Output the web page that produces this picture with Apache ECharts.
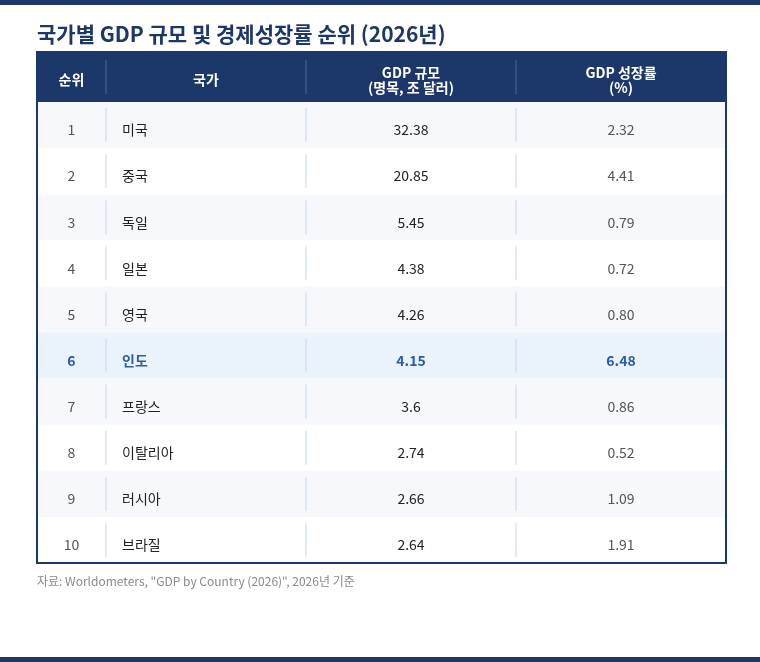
<!DOCTYPE html>
<html>
<head>
<meta charset="UTF-8">
<script src="https://cdn.jsdelivr.net/npm/echarts@6/dist/echarts.min.js"></script>
<style>html,body{margin:0;padding:0;background:#fff}#chart{width:760px;height:662px}</style>
</head>
<body>
<div id="chart"></div>
<script>
var ranks = [1, 2, 3, 4, 5, 6, 7, 8, 9, 10];
var countries = ['미국', '중국', '독일', '일본', '영국', '인도', '프랑스', '이탈리아', '러시아', '브라질'];
var gdp = ['32.38', '20.85', '5.45', '4.38', '4.26', '4.15', '3.6', '2.74', '2.66', '2.64'];
var growth = ['2.32', '4.41', '0.79', '0.72', '0.80', '6.48', '0.86', '0.52', '1.09', '1.91'];
var headers = ['순위', '국가', 'GDP 규모\n(명목, 조 달러)', 'GDP 성장률\n(%)'];
var highlightRank = 6;

var fam = '"Noto Sans CJK KR", "Noto Sans", sans-serif';
var navy = '#1c3769';
var tLeft = 37, tRight = 726, tTop = 52, headH = 50, rowH = 46.1;
var cols = [37, 106, 306, 516, 726];
var els = [];

function txt(x, y, s, size, weight, color, align, lh) {
  return { type: 'text', x: x, y: y, style: { text: s, fontSize: size, fontWeight: weight, fontFamily: fam,
    fill: color, align: align, verticalAlign: 'middle', lineHeight: lh || size + 2 } };
}

// 상하 띠
els.push({ type: 'rect', shape: { x: 0, y: 0, width: 760, height: 5 }, style: { fill: navy } });
els.push({ type: 'rect', shape: { x: 0, y: 657, width: 760, height: 5 }, style: { fill: navy } });
els.push(txt(37, 34, '국가별 GDP 규모 및 경제성장률 순위 (2026년)', 21, 'bold', navy, 'left'));

// 헤더
els.push({ type: 'rect', shape: { x: tLeft, y: tTop, width: tRight - tLeft, height: headH }, style: { fill: navy } });
headers.forEach(function (h, i) {
  els.push(txt((cols[i] + cols[i + 1]) / 2, tTop + headH / 2 + 3, h, 14, 'bold', '#fff', 'center', 15));
  if (i > 0) els.push({ type: 'line', shape: { x1: cols[i], y1: tTop + 8, x2: cols[i], y2: tTop + headH - 8 }, style: { stroke: '#4a6aa3', lineWidth: 1 } });
});

// 본문
ranks.forEach(function (r, k) {
  var y0 = tTop + headH + k * rowH;
  var hl = r === highlightRank;
  els.push({ type: 'rect', shape: { x: tLeft, y: y0, width: tRight - tLeft, height: rowH },
    style: { fill: hl ? '#eaf3fb' : (k % 2 === 0 ? '#f6f8fc' : '#ffffff') } });
  var cy = y0 + rowH / 2 + 5;
  var cells = [String(r), countries[k], gdp[k], growth[k]];
  var colors = ['#555', '#222', '#222', '#555'];
  cells.forEach(function (c, i) {
    els.push(txt(i === 1 ? cols[1] + 16 : (cols[i] + cols[i + 1]) / 2, cy, c, 14,
      hl ? 'bold' : 'normal', hl ? '#2a5caa' : colors[i], i === 1 ? 'left' : 'center'));
    if (i > 0) els.push({ type: 'line', shape: { x1: cols[i], y1: y0 + 6, x2: cols[i], y2: y0 + rowH - 6 }, style: { stroke: '#c5d8ee', lineWidth: 1 } });
  });
});

var tBottom = tTop + headH + ranks.length * rowH;
els.push({ type: 'rect', shape: { x: tLeft, y: tTop, width: tRight - tLeft, height: tBottom - tTop }, style: { fill: 'transparent', stroke: navy, lineWidth: 2 } });
els.push(txt(37, 581, '자료: Worldometers, "GDP by Country (2026)", 2026년 기준', 12, 'normal', '#8a8a8a', 'left'));

var chart = echarts.init(document.getElementById('chart'));
chart.setOption({ animation: false, graphic: { elements: els } });
</script>
</body>
</html>
